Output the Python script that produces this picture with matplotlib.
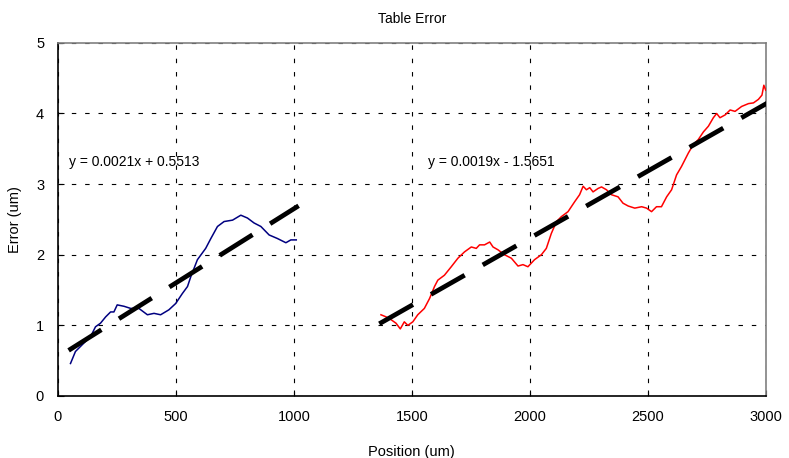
import numpy as np
import matplotlib.pyplot as plt

plt.rcParams['font.family'] = ['Liberation Sans', 'DejaVu Sans']

# blue segment (left)
pos_a = [53, 74, 110, 138, 159, 180, 202, 223, 237, 251, 280, 308, 343, 379, 407,
         435, 470, 499, 527, 549, 563, 591, 626, 648, 676, 704, 740, 775, 803, 831,
         860, 895, 930, 966, 987, 1010]
err_a = [0.46, 0.63, 0.75, 0.84, 0.98, 1.03, 1.12, 1.19, 1.19, 1.29, 1.27, 1.24, 1.24,
         1.15, 1.17, 1.15, 1.22, 1.31, 1.45, 1.55, 1.69, 1.93, 2.09, 2.23, 2.40, 2.47,
         2.49, 2.56, 2.52, 2.45, 2.40, 2.28, 2.23, 2.17, 2.21, 2.21]

# red segment (right)
pos_b = [1369, 1391, 1412, 1433, 1451, 1468, 1483, 1504, 1525, 1553, 1575, 1596, 1610,
         1638, 1667, 1695, 1723, 1752, 1773, 1787, 1808, 1830, 1844, 1865, 1893, 1922,
         1950, 1971, 1992, 2020, 2049, 2070, 2091, 2113, 2134, 2162, 2190, 2211, 2226,
         2240, 2254, 2268, 2290, 2304, 2325, 2346, 2374, 2395, 2417, 2445, 2474, 2495,
         2516, 2537, 2558, 2580, 2601, 2622, 2643, 2672, 2693, 2714, 2736, 2757, 2778,
         2792, 2806, 2828, 2849, 2870, 2898, 2927, 2948, 2969, 2984, 2992, 3000]
err_b = [1.15, 1.12, 1.08, 1.03, 0.95, 1.05, 1.00, 1.05, 1.15, 1.24, 1.38, 1.55, 1.64,
         1.71, 1.83, 1.95, 2.04, 2.11, 2.09, 2.14, 2.14, 2.18, 2.11, 2.07, 2.00, 1.95,
         1.84, 1.86, 1.83, 1.93, 2.00, 2.09, 2.30, 2.47, 2.54, 2.61, 2.75, 2.85, 2.97,
         2.92, 2.95, 2.89, 2.94, 2.96, 2.92, 2.85, 2.82, 2.73, 2.69, 2.66, 2.68, 2.66,
         2.61, 2.68, 2.68, 2.82, 2.92, 3.13, 3.25, 3.44, 3.56, 3.63, 3.74, 3.82, 3.94,
         4.00, 3.94, 3.98, 4.05, 4.03, 4.10, 4.14, 4.15, 4.20, 4.26, 4.40, 4.33]

# linear fits shown on the chart
fit_a = (0.0021, 0.5513)
fit_b = (0.0019, -1.5651)
fit_a_range = [45, 1020]
fit_b_range = [1362, 3012]

fig = plt.figure(figsize=(7.89, 4.58), dpi=100)
ax = fig.add_axes([0.0735, 0.1354, 0.897, 0.771])

ax.plot(pos_a, err_a, color='#000080', lw=1.1, zorder=3)
ax.plot(pos_b, err_b, color='#ff0000', lw=1.1, zorder=3)

for (m, c), rng in [(fit_a, fit_a_range), (fit_b, fit_b_range)]:
    xs = np.array(rng)
    ax.plot(xs, m * xs + c, color='black', lw=3.4, dashes=(8.2, 4.4), zorder=4,
            solid_capstyle='butt', dash_capstyle='butt')

ax.text(45, 3.32, 'y = 0.0021x + 0.5513', fontsize=10, va='center')
ax.text(1568, 3.32, 'y = 0.0019x - 1.5651', fontsize=10, va='center')

ax.set_xlim(0, 3000)
ax.set_ylim(0, 5)
ax.set_xticks(np.arange(0, 3001, 500))
ax.set_yticks(np.arange(0, 6, 1))
ax.grid(True, color='black', lw=0.8, linestyle=(0, (4, 8)))
ax.tick_params(direction='in', length=4, labelsize=10.5, pad=10)

ax.spines['left'].set_color('black')
ax.spines['bottom'].set_color('black')
ax.spines['top'].set_color('#808080')
ax.spines['right'].set_color('#808080')
for s in ax.spines.values():
    s.set_linewidth(1.2)

ax.set_title('Table Error', fontsize=10, pad=14)
ax.set_xlabel('Position (um)', fontsize=10.5, labelpad=15)
ax.set_ylabel('Error (um)', fontsize=10.5, labelpad=10)

fig.savefig('out.png', dpi=100)
